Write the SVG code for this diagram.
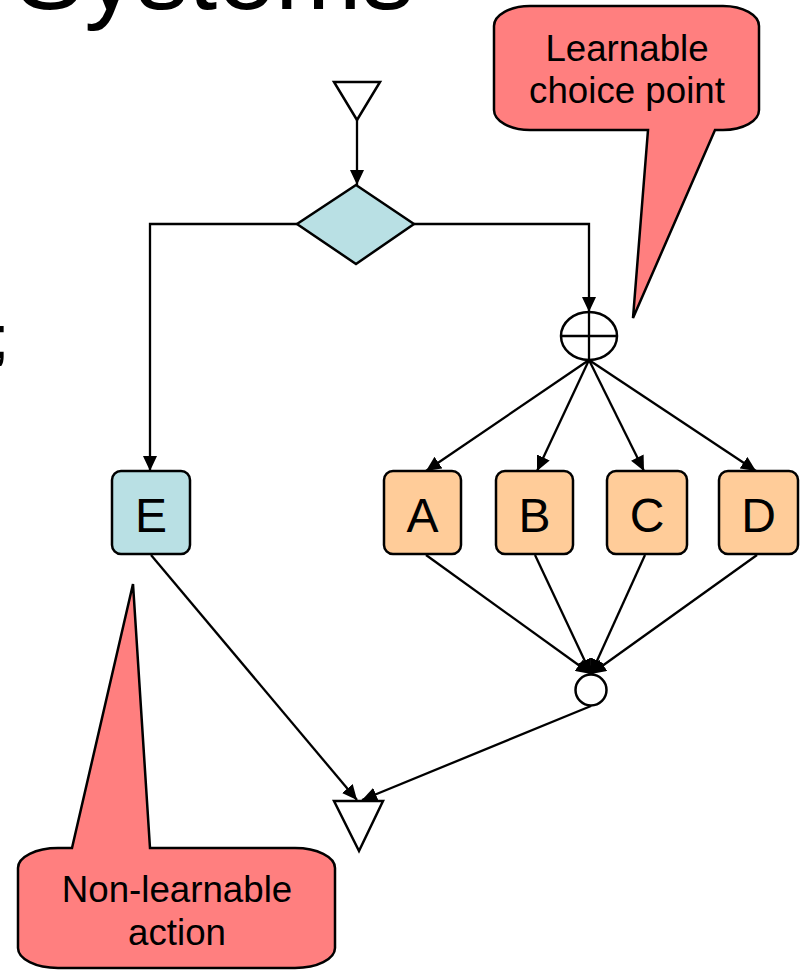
<svg xmlns="http://www.w3.org/2000/svg" width="802" height="970" viewBox="0 0 802 970">
  <style>
    .txt { font-family: "Liberation Sans", Arial, sans-serif; fill: #000; }
    .box { stroke: #000; stroke-width: 2.5; }
    .blue { fill: #B9E0E4; }
    .orange { fill: #FFCC99; }
    .callout { fill: #FF7F7F; stroke: #000; stroke-width: 2.5; stroke-linejoin: miter; }
    .open { fill: #fff; stroke: #000; stroke-width: 2.5; }
    .edge { fill: none; stroke: #000; stroke-width: 2.3; }
    .letter { font-size: 48px; text-anchor: middle; }
    .note { font-size: 36.7px; text-anchor: middle; }
  </style>
  <defs>
    <marker id="arrow" markerUnits="userSpaceOnUse" markerWidth="16" markerHeight="14" refX="15" refY="7" orient="auto">
      <path d="M0,0 L15,7 L0,14 Z" fill="#000"/>
    </marker>
  </defs>

  <rect width="802" height="970" fill="#fff"/>

  <!-- title and bullet text running off the edges -->
  <text class="txt" x="15" y="9" font-size="104">Systems</text>
  <text class="txt" x="-8" y="358" font-size="62">;</text>

  <!-- connectors -->
  <g id="connectors">
    <line class="edge" x1="357" y1="120" x2="357" y2="185" marker-end="url(#arrow)"/>
    <polyline class="edge" points="297,224 150,224 150,471" marker-end="url(#arrow)"/>
    <polyline class="edge" points="414,224 589,224 589,312" marker-end="url(#arrow)"/>
    <line class="edge" x1="589" y1="360" x2="426" y2="471" marker-end="url(#arrow)"/>
    <line class="edge" x1="589" y1="360" x2="537" y2="471" marker-end="url(#arrow)"/>
    <line class="edge" x1="589" y1="360" x2="644" y2="471" marker-end="url(#arrow)"/>
    <line class="edge" x1="589" y1="360" x2="756" y2="471" marker-end="url(#arrow)"/>
    <line class="edge" x1="426" y1="555" x2="591" y2="674" marker-end="url(#arrow)"/>
    <line class="edge" x1="535" y1="555" x2="591" y2="674" marker-end="url(#arrow)"/>
    <line class="edge" x1="645" y1="555" x2="591" y2="674" marker-end="url(#arrow)"/>
    <line class="edge" x1="757" y1="555" x2="591" y2="674" marker-end="url(#arrow)"/>
    <line class="edge" x1="151" y1="555" x2="357" y2="800" marker-end="url(#arrow)"/>
    <line class="edge" x1="591" y1="706" x2="362" y2="800" marker-end="url(#arrow)"/>
  </g>

  <!-- start -->
  <g id="start">
    <polygon class="open" points="334,82 380,82 357,120"/>
  </g>

  <!-- decision -->
  <g id="decision">
    <polygon class="box blue" points="356,185 414,224 356,264 297,224"/>
  </g>

  <!-- choice point (xor) -->
  <g id="choice">
    <ellipse class="open" cx="589" cy="336" rx="28" ry="24"/>
    <line class="edge" x1="589" y1="312" x2="589" y2="360"/>
    <line class="edge" x1="561" y1="336" x2="617" y2="336"/>
  </g>

  <!-- actions -->
  <g id="node-e">
    <rect class="box blue" x="112" y="471" width="78" height="83" rx="9"/>
    <text class="txt letter" x="151" y="532">E</text>
  </g>
  <g id="node-a">
    <rect class="box orange" x="384" y="471" width="77" height="83" rx="9"/>
    <text class="txt letter" x="422.5" y="532">A</text>
  </g>
  <g id="node-b">
    <rect class="box orange" x="496" y="471" width="77" height="83" rx="9"/>
    <text class="txt letter" x="534.5" y="532">B</text>
  </g>
  <g id="node-c">
    <rect class="box orange" x="607" y="471" width="80" height="83" rx="9"/>
    <text class="txt letter" x="647" y="532">C</text>
  </g>
  <g id="node-d">
    <rect class="box orange" x="719" y="471" width="79" height="83" rx="9"/>
    <text class="txt letter" x="758.5" y="532">D</text>
  </g>

  <!-- join -->
  <g id="join">
    <circle class="open" cx="591" cy="690" r="15.5"/>
  </g>

  <!-- end -->
  <g id="end">
    <polygon class="open" points="334,801 383,801 359,851"/>
  </g>

  <!-- callouts -->
  <g id="callout-choice">
    <path class="callout" d="M530,6 H723 A36 20 0 0 1 759,26 V110 A36 20 0 0 1 723,130 H715 L633,318 L648,130 H530 A36 20 0 0 1 494,110 V26 A36 20 0 0 1 530,6 Z"/>
    <text class="txt note" x="627" y="61">Learnable</text>
    <text class="txt note" x="627" y="103">choice point</text>
  </g>
  <g id="callout-action">
    <path class="callout" d="M58,848 H72 L133,584 L150,848 H295 A40 20 0 0 1 335,868 V948 A40 20 0 0 1 295,968 H58 A40 20 0 0 1 18,948 V868 A40 20 0 0 1 58,848 Z"/>
    <text class="txt note" x="177" y="902">Non-learnable</text>
    <text class="txt note" x="177" y="945">action</text>
  </g>
</svg>
